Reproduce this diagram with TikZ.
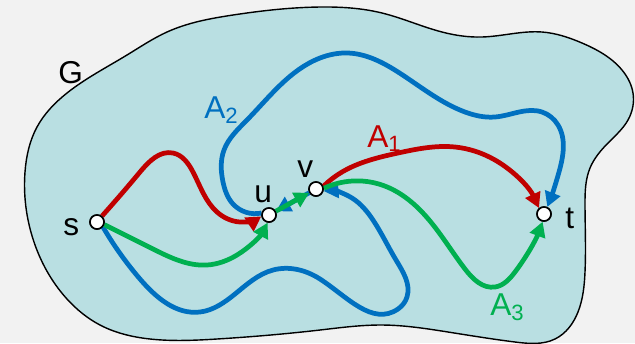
\documentclass[tikz,border=0pt]{standalone}
\usepackage{fontspec}
\setmainfont{Liberation Sans}
\usetikzlibrary{arrows.meta,hobby}

\definecolor{bg}{HTML}{F2F2F2}
\definecolor{region}{HTML}{B9DFE2}
\definecolor{pathred}{HTML}{C00000}
\definecolor{pathblue}{HTML}{0070C0}
\definecolor{pathgreen}{HTML}{00B050}

\tikzset{
  vertex/.style={circle, draw=black, fill=white, line width=0.9pt, minimum size=0.28cm, inner sep=0pt},
  lbl/.style={anchor=base west, inner sep=0pt, font=\fontsize{18}{20}\selectfont},
  route/.style={line width=2.7pt, -{Triangle[length=8.5pt,width=9pt]}, use Hobby shortcut},
}

\begin{document}
\begin{tikzpicture}[x=0.02cm, y=-0.02cm]
        % фон і межі
        \fill[bg] (0,0) rectangle (635,343);
        \useasboundingbox (0,0) rectangle (635,343);

        % область G
        \draw[fill=region, line width=0.8pt, use Hobby shortcut, closed=true]
            (25,172) .. (37,127) .. (67,93) .. (127,55) .. (167,32) .. (233,15) .. (320,7)
            .. (382,13) .. (442,32) .. (482,37) .. (542,32) .. (582,43) .. (622,70) .. (633,93)
            .. (628,120) .. (608,143) .. (590,168) .. (585,205) .. (585,272) .. (578,312)
            .. (555,339) .. (515,342) .. (448,332) .. (382,325) .. (320,330) .. (217,339)
            .. (150,339) .. (100,325) .. (67,299) .. (33,239) .. (25,172);

        % вершини
        \node[vertex] (s) at (97,222) {};
        \node[vertex] (u) at (269,215) {};
        \node[vertex] (v) at (316,189) {};
        \node[vertex] (t) at (544,214) {};

        % шлях A2
        \draw[route, pathblue] (s.-40) .. (140,279) .. (200,312) .. (235,294) .. (273,270)
            .. (320,279) .. (398,309) .. (407,297) .. (396,260) .. (373,220) .. (352,198) .. (v.-15);
        \draw[route, pathblue, use Hobby shortcut=false] (v) -- (u);
        \draw[route, pathblue] (u.165) .. (233,204) .. (223,182) .. (224,150) .. (247,120)
            .. (320,58) .. (348,53) .. (398,72) .. (465,112) .. (495,117) .. (542,112)
            .. (558,125) .. (559,172) .. (t.65);

        % шлях A1
        \draw[route, pathred] (s.50) .. (140,172) .. (173,153) .. (193,172) .. (217,212)
            .. (240,222) .. (u.190);
        \draw[route, pathred] (v.20) .. (342,172) .. (398,153) .. (455,147) .. (495,160)
            .. (t.130);

        % шлях A3
        \draw[route, pathgreen] (s.-20) .. (153,249) .. (207,265) .. (237,255) .. (u.-100);
        \draw[route, pathgreen, use Hobby shortcut=false] (u) -- (v);
        \draw[route, pathgreen] (v.5) .. (382,185) .. (422,212) .. (465,269) .. (495,287)
            .. (515,272) .. (t.-100);

        % вершини поверх шляхів
        \node[vertex] at (s) {};
        \node[vertex] at (u) {};
        \node[vertex] at (v) {};
        \node[vertex] at (t) {};

        % підписи
        \node[lbl] (labG) at (58,83) {G};
        \node[lbl] (labs) at (63,235) {s};
        \node[lbl] (labu) at (254,202) {u};
        \node[lbl] (labv) at (297,177) {v};
        \node[lbl] (labt) at (565,228) {t};
        \node[lbl, pathblue] (labA2) at (204,118) {A\textsubscript{2}};
        \node[lbl, pathred] (labA1) at (367,147) {A\textsubscript{1}};
        \node[lbl, pathgreen] (labA3) at (490,315) {A\textsubscript{3}};
    \end{tikzpicture}
\end{document}
